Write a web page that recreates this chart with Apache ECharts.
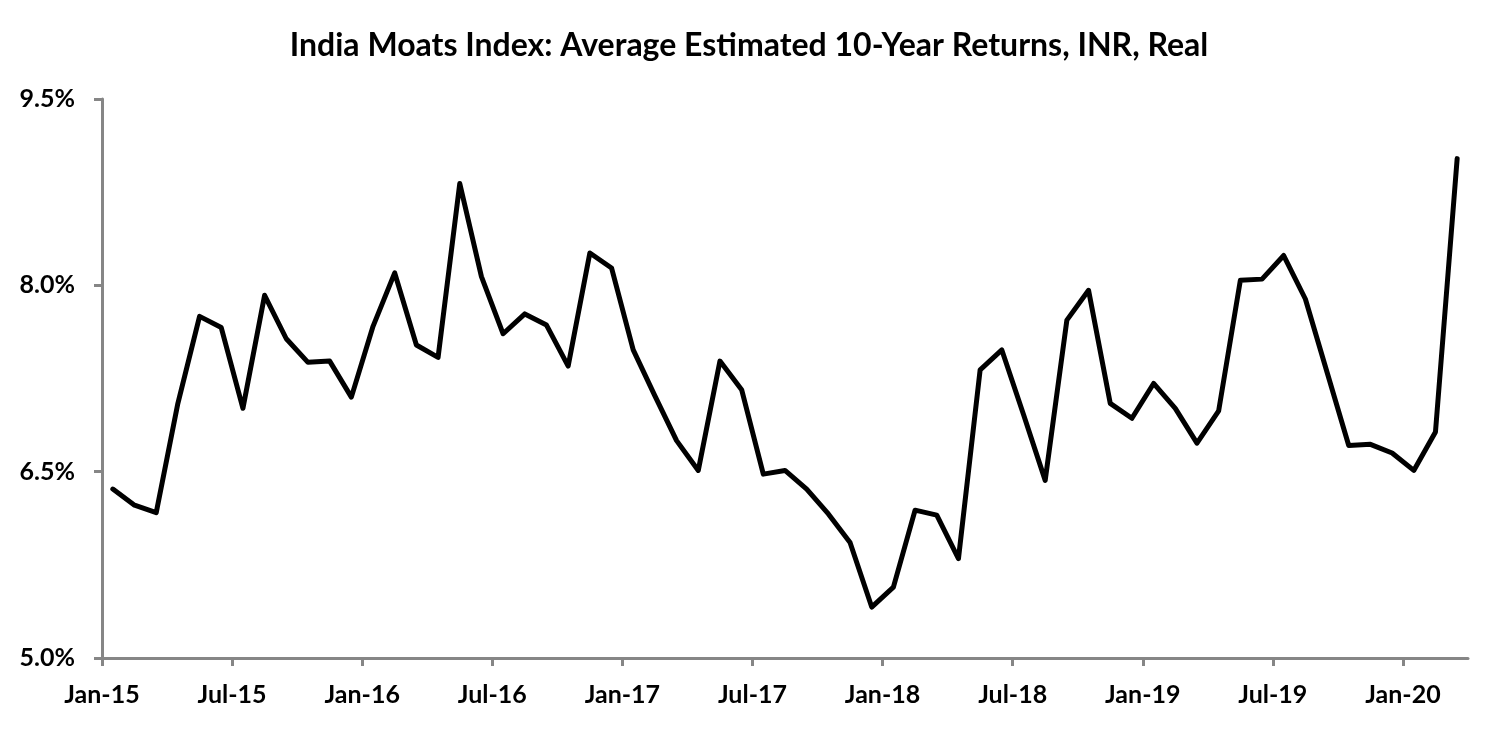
<!DOCTYPE html>
<html>
<head>
<meta charset="utf-8">
<script src="https://cdn.jsdelivr.net/npm/echarts@6/dist/echarts.min.js"></script>
<style>
html,body{margin:0;padding:0;background:#fff;}
#chart{width:1498px;height:730px;}
</style>
</head>
<body>
<div id="chart"></div>
<script>
const title = 'India Moats Index: Average Estimated 10-Year Returns, INR, Real';
const months = [
 'Jan-15','Feb-15','Mar-15','Apr-15','May-15','Jun-15','Jul-15','Aug-15','Sep-15','Oct-15','Nov-15','Dec-15',
 'Jan-16','Feb-16','Mar-16','Apr-16','May-16','Jun-16','Jul-16','Aug-16','Sep-16','Oct-16','Nov-16','Dec-16',
 'Jan-17','Feb-17','Mar-17','Apr-17','May-17','Jun-17','Jul-17','Aug-17','Sep-17','Oct-17','Nov-17','Dec-17',
 'Jan-18','Feb-18','Mar-18','Apr-18','May-18','Jun-18','Jul-18','Aug-18','Sep-18','Oct-18','Nov-18','Dec-18',
 'Jan-19','Feb-19','Mar-19','Apr-19','May-19','Jun-19','Jul-19','Aug-19','Sep-19','Oct-19','Nov-19','Dec-19',
 'Jan-20','Feb-20','Mar-20'
];
const returnsPct = [
 6.36, 6.23, 6.17, 7.05, 7.75, 7.66, 7.01, 7.92, 7.57, 7.38, 7.39, 7.10,
 7.67, 8.10, 7.52, 7.42, 8.82, 8.07, 7.61, 7.77, 7.68, 7.35, 8.26, 8.14,
 7.48, 7.11, 6.75, 6.51, 7.39, 7.16, 6.48, 6.51, 6.36, 6.16, 5.93, 5.41,
 5.57, 6.19, 6.15, 5.80, 7.32, 7.48, 6.96, 6.43, 7.72, 7.96, 7.05, 6.93,
 7.21, 7.01, 6.73, 6.99, 8.04, 8.05, 8.24, 7.89, 7.30, 6.71, 6.72, 6.65,
 6.51, 6.82, 9.02
];
const xTickLabels = ['Jan-15','Jul-15','Jan-16','Jul-16','Jan-17','Jul-17','Jan-18','Jul-18','Jan-19','Jul-19','Jan-20'];
const yTicks = [5.0, 6.5, 8.0, 9.5];

const xTickPos = xTickLabels.map(l => months.indexOf(l));
const seriesData = returnsPct.map((v, i) => [i + 0.5, v]);

const axisGray = '#868686';
const fontFam = 'Lato, "Open Sans", sans-serif';

const chart = echarts.init(document.getElementById('chart'), null, {renderer: 'canvas'});
chart.setOption({
  animation: false,
  backgroundColor: '#ffffff',
  title: {
    text: title,
    left: 'center',
    top: 25,
    textStyle: {fontFamily: fontFam, fontWeight: 'bold', fontSize: 32, color: '#000'}
  },
  grid: {left: 102, right: 30, top: 99, bottom: 72, containLabel: false},
  xAxis: {
    type: 'value',
    min: 0,
    max: months.length,
    axisLine: {show: true, lineStyle: {color: axisGray, width: 3}},
    axisTick: {show: true, length: 8, lineStyle: {color: axisGray, width: 3}, customValues: xTickPos},
    axisLabel: {
      customValues: xTickPos,
      formatter: v => months[Math.round(v)] || '',
      margin: 24,
      fontFamily: fontFam, fontWeight: 'bold', fontSize: 25, color: '#000'
    },
    splitLine: {show: false}
  },
  yAxis: {
    type: 'value',
    min: yTicks[0],
    max: yTicks[yTicks.length - 1],
    axisLine: {show: true, lineStyle: {color: axisGray, width: 3}},
    axisTick: {show: true, length: 8, lineStyle: {color: axisGray, width: 3}, customValues: yTicks},
    axisLabel: {
      customValues: yTicks,
      formatter: v => v.toFixed(1) + '%',
      margin: 27,
      fontFamily: fontFam, fontWeight: 'bold', fontSize: 25, color: '#000'
    },
    splitLine: {show: false}
  },
  series: [{
    type: 'line',
    data: seriesData,
    showSymbol: false,
    symbol: 'none',
    lineStyle: {color: '#000', width: 5, join: 'round', cap: 'round'},
    clip: false
  }]
});
</script>
</body>
</html>
